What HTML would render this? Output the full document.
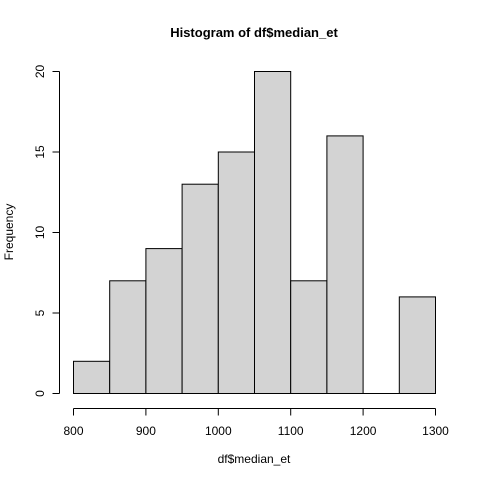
<!DOCTYPE html>
<html><head><meta charset="utf-8"><style>
body{margin:0;background:#fff}
svg{display:block;font-family:"Liberation Sans",Arial,sans-serif}
</style></head><body>
<svg id="chart" width="480" height="480" viewBox="0 0 480 480" xmlns="http://www.w3.org/2000/svg">
<rect width="480" height="480" fill="#fff"/>
<text x="254" y="37" text-anchor="middle" font-size="13" font-weight="bold">Histogram of df$median_et</text>
<text x="254" y="463" text-anchor="middle" font-size="12">df$median_et</text>
<text transform="translate(13,232) rotate(-90)" text-anchor="middle" font-size="12">Frequency</text>
<g id="bars"></g>
<g id="xaxis"></g>
<g id="yaxis"></g>
</svg>
<script>
const binStarts = [800,850,900,950,1000,1050,1100,1150,1200,1250];
const counts = [2,7,9,13,15,20,7,16,0,6];
const xTicks = [800,900,1000,1100,1200,1300];
const yTicks = [0,5,10,15,20];
const binWidth = 50;
const NS = "http://www.w3.org/2000/svg";
function sx(v){return 73 + (v-800)*(435-73)/500;}
function sy(v){return 393 - v*(393-71)/20;}
const bars = document.getElementById('bars');
binStarts.forEach((b,i)=>{
  const x0=sx(b), x1=sx(b+binWidth), y=sy(counts[i]);
  if(counts[i]===0){
    const l=document.createElementNS(NS,'line');
    
    
    l.setAttribute('x1',x0+0.5);l.setAttribute('x2',x1+0.5);
    l.setAttribute('y1',y+0.5);l.setAttribute('y2',y+0.5);
    l.setAttribute('stroke','#000');
    bars.appendChild(l);
    return;
  }
  const r = document.createElementNS(NS,'rect');
  
  
  r.setAttribute('x',x0+0.5); r.setAttribute('y',y+0.5);
  r.setAttribute('width',x1-x0); r.setAttribute('height',sy(0)-y);
  r.setAttribute('fill','#d3d3d3'); r.setAttribute('stroke','#000'); r.setAttribute('stroke-width','1');
  bars.appendChild(r);
});
const xa = document.getElementById('xaxis');
function line(g,x1,y1,x2,y2,name){
  const l=document.createElementNS(NS,'line');
  
  
  l.setAttribute('x1',x1);l.setAttribute('y1',y1);l.setAttribute('x2',x2);l.setAttribute('y2',y2);
  l.setAttribute('stroke','#000');g.appendChild(l);
}
line(xa,sx(xTicks[0])+0.5,408.5,sx(xTicks[xTicks.length-1])+0.5,408.5,'x-axis-line');
xTicks.forEach(t=>{
  line(xa,sx(t)+0.5,408.5,sx(t)+0.5,415.5,'x-tick');
  const tx=document.createElementNS(NS,'text');
  
  
  tx.setAttribute('x',sx(t)+0.5);tx.setAttribute('y',435);tx.setAttribute('text-anchor','middle');tx.setAttribute('font-size','12');
  tx.textContent=t;xa.appendChild(tx);
});
const ya = document.getElementById('yaxis');
line(ya,59.5,sy(yTicks[0])+0.5,59.5,sy(yTicks[yTicks.length-1])+0.5,'y-axis-line');
yTicks.forEach(t=>{
  line(ya,52.5,sy(t)+0.5,59.5,sy(t)+0.5,'y-tick');
  const tx=document.createElementNS(NS,'text');
  
  
  tx.setAttribute('transform','translate(44,'+(sy(t)+0.5)+') rotate(-90)');
  tx.setAttribute('text-anchor','middle');tx.setAttribute('font-size','12');
  tx.textContent=t;ya.appendChild(tx);
});
</script>
</body></html>
